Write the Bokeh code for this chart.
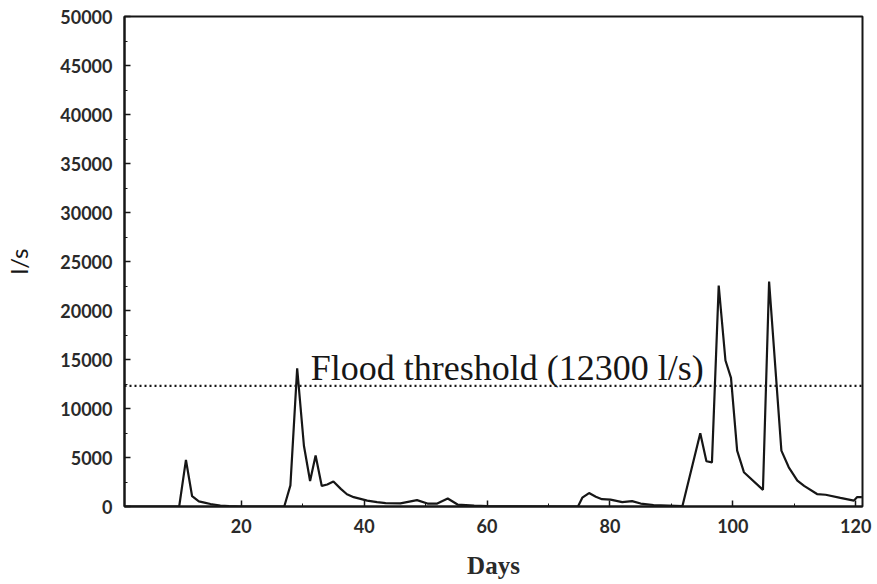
from bokeh.plotting import figure
from bokeh.models import Range1d, SingleIntervalTicker, Span
from bokeh.core.properties import value
from bokeh.embed import file_html
from bokeh.resources import INLINE

# Daily discharge (l/s)
days = [1, 9.9, 11.0, 12.0, 13.1, 14.0, 15.0, 16.6, 18.0, 20.0,
        27.0, 28.0, 29.1, 30.2, 31.2, 32.1, 33.1, 34.0, 35.0, 36.2,
        37.2, 38.3, 40.5, 42.1, 43.5, 45.9, 48.6, 50.3, 51.9, 53.6,
        55.2, 57.9, 60.0, 74.8, 75.5, 76.6, 77.7, 78.7, 80.1, 82.0,
        83.6, 85.0, 87.1, 91.8, 94.7, 95.7, 96.6, 97.7, 98.8, 99.7,
        100.7, 101.8, 104.9, 105.9, 107.9, 109.1, 110.5, 111.6, 113.7, 115.1,
        117.5, 119.7, 120.2, 121.0]
flow = [0, 0, 4750, 1050, 520, 400, 250, 100, 30, 0,
        0, 2150, 14100, 6200, 2600, 5200, 2100, 2250, 2550, 1800,
        1250, 950, 600, 450, 350, 320, 650, 300, 300, 820,
        200, 80, 30, 0, 900, 1370, 1000, 750, 700, 450,
        550, 300, 150, 50, 7480, 4620, 4500, 22550, 14900, 13130,
        5700, 3500, 1700, 22960, 5700, 4000, 2650, 2100, 1270, 1200,
        880, 600, 950, 950]

threshold = 12300
threshold_label = "Flood threshold (12300 l/s)"
label_x = 31.3
label_y = 14100

x_label = "Days"
y_label = "l/s"

INK = "#161616"

p = figure(width=877, height=584, output_backend="svg", toolbar_location=None,
           x_range=Range1d(1, 121.1), y_range=Range1d(0, 50000),
           min_border_left=124, min_border_right=15, min_border_top=16,
           min_border_bottom=78)

p.grid.visible = False
p.background_fill_color = "white"
p.border_fill_color = "white"
p.outline_line_color = INK
p.outline_line_width = 2

p.line(days, flow, line_color=INK, line_width=2.2)

p.add_layout(Span(location=threshold, dimension="width", line_color=INK,
                  line_width=2.2, line_dash="2 3"))

p.text(x=[label_x], y=[label_y], text=[threshold_label],
       text_font=value("Liberation Serif"), text_font_size="36px",
       text_color=INK, text_baseline="alphabetic", text_align="left")

p.xaxis.ticker = SingleIntervalTicker(interval=20, num_minor_ticks=2)
p.yaxis.ticker = SingleIntervalTicker(interval=5000, num_minor_ticks=2)

for ax in (p.xaxis[0], p.yaxis[0]):
    ax.axis_line_color = INK
    ax.axis_line_width = 2
    ax.major_tick_in = 6
    ax.major_tick_out = 0
    ax.minor_tick_in = 3
    ax.minor_tick_out = 0
    ax.major_tick_line_color = INK
    ax.major_tick_line_width = 1.5
    ax.minor_tick_line_color = INK
    ax.major_label_text_font = "Lato"
    ax.major_label_text_font_size = "18px"
    ax.major_label_text_font_style = "bold"
    ax.major_label_text_color = "#2a2a2a"

p.xaxis.major_label_standoff = 12
p.yaxis.major_label_standoff = 12

p.xaxis.axis_label = x_label
p.xaxis.axis_label_text_font = "Liberation Serif"
p.xaxis.axis_label_text_font_style = "bold"
p.xaxis.axis_label_text_font_size = "25px"
p.xaxis.axis_label_text_color = "#2a2a2a"
p.xaxis.axis_label_standoff = 16

p.yaxis.axis_label = y_label
p.yaxis.axis_label_text_font = "Lato"
p.yaxis.axis_label_text_font_style = "normal"
p.yaxis.axis_label_text_font_size = "24px"
p.yaxis.axis_label_text_color = INK
p.yaxis.axis_label_standoff = 24

open("out.html", "w").write(file_html(p, INLINE))
